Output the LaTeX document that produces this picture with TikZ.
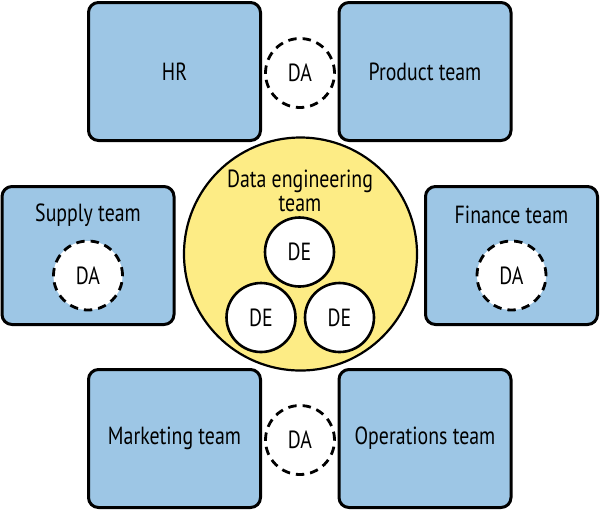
\documentclass[tikz,border=0pt]{standalone}
\usepackage{fontspec}
\setmainfont{PT Sans}[FakeStretch=0.8]
\usepackage{tikz}
\usetikzlibrary{positioning}
\definecolor{teamBlue}{HTML}{9DC6E5}
\definecolor{hubYellow}{HTML}{FDEC85}
\colorlet{teamLine}{black}

\begin{document}
\begin{tikzpicture}[
  x=0.5pt,
  y=-0.5pt,
  every node/.style={
    font=\fontsize{12.4}{11}\selectfont,
    inner sep=0pt,
  },
  team/.style={
    draw=teamLine,
    line width=1.5pt,
    fill=teamBlue,
    rounded corners=5pt,
    minimum width=86pt,
    minimum height=69pt,
  },
  hub/.style={
    circle,
    draw=teamLine,
    line width=1.1pt,
    fill=hubYellow,
    minimum size=116.5pt,
  },
  engineer/.style={
    circle,
    draw=teamLine,
    line width=1.3pt,
    fill=white,
    minimum size=34.5pt,
  },
  analyst/.style={
    circle,
    draw=teamLine,
    line width=1.4pt,
    dash pattern=on 4.2pt off 3pt,
    fill=white,
    minimum size=34.5pt,
  }
]
\fill[white] (0,0) rectangle (600,511);
\useasboundingbox (0,0) rectangle (600,511);

% data engineering team in the middle
\node[hub] (hub) at (300.5,254) {};
\node[align=center] (hubLabel) at (300,191) {Data engineering\\[1pt]team};
\foreach \n/\x/\y in {deTop/299.5/252,deLeft/261/317.5,deRight/339.5/317.5} {
  \node[engineer] (\n) at (\x,\y) {DE};
}

% analysts shared by two teams
\node[analyst] (daTop) at (300,73) {DA};
\node[analyst] (daBottom) at (300,440) {DA};

\foreach \n/\x/\y/\t in {
  hr/174.5/71.5/HR,
  product/425/71.5/Product team,
  marketing/174.5/438.5/Marketing team,
  operations/425/438.5/Operations team
} {
  \node[team] (\n) at (\x,\y) {\t};
}

% teams with their own analyst
\foreach \n/\x/\t in {supply/88/Supply team,finance/511.5/Finance team} {
  \node[team] (\n) at (\x,255.5) {};
  \node (\n Label) at (\x,215) {\t};
  \node[analyst] (\n DA) at (\x,275.5) {DA};
}
\end{tikzpicture}
\end{document}
